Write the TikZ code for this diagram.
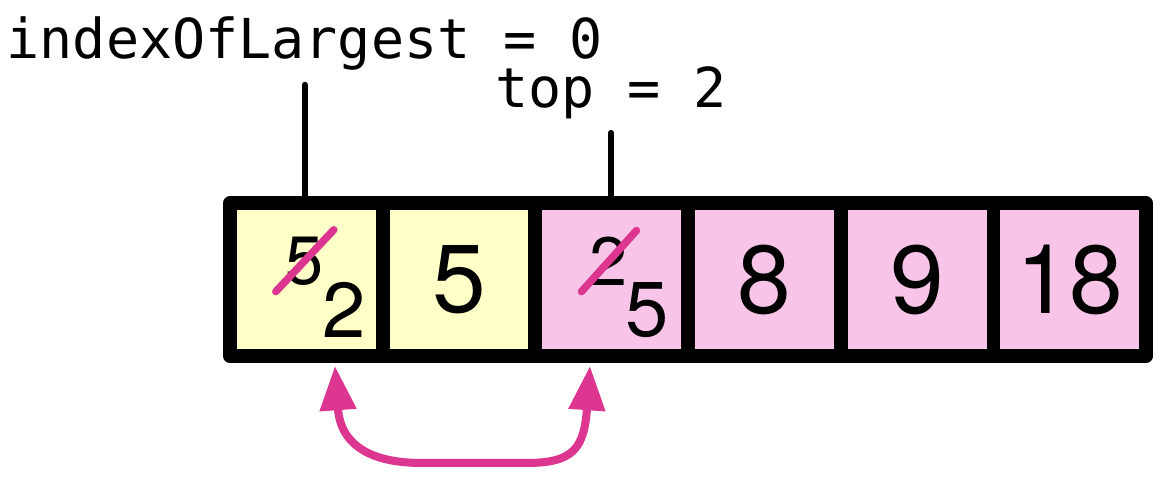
\documentclass[tikz,border=0pt]{standalone}
\usepackage{fontspec}
\setmainfont{TeX Gyre Heros}
\setmonofont{DejaVu Sans Mono}
\usetikzlibrary{arrows.meta}
\definecolor{cellyellow}{RGB}{255,255,200}
\definecolor{cellpink}{RGB}{248,197,233}
\definecolor{swapmagenta}{RGB}{221,54,144}
\begin{document}
\begin{tikzpicture}[
    cell/.style={draw, line width=5.2pt, line join=round, minimum width=2cm, minimum height=2cm,
      inner sep=0pt, font=\fontsize{36}{36}\selectfont},
    oldval/.style={inner sep=0pt, font=\fontsize{25.5}{26}\selectfont},
    newval/.style={inner sep=0pt, font=\fontsize{29}{30}\selectfont},
    strike/.style={swapmagenta, line width=2.8pt, line cap=round},
    pointer/.style={line width=2.4pt, line cap=round},
    varlabel/.style={anchor=base, inner sep=0pt, font=\ttfamily\fontsize{20.5}{24}\selectfont},
    swaparrow/.style={swapmagenta, line width=3pt,
      {Triangle[length=0.58cm,width=0.46cm]}-{Triangle[length=0.58cm,width=0.46cm]}}
  ]
  \useasboundingbox (-3.012,-1.585) rectangle (12.207,4.663);
  \draw
    (1,1) node[cell, fill=cellyellow] (c0){}
    (3,1) node[cell, fill=cellyellow] (c1){5}
    (5,1) node[cell, fill=cellpink] (c2){}
    (7,1) node[cell, fill=cellpink] (c3){8}
    (9,1) node[cell, fill=cellpink] (c4){9}
    (11,1) node[cell, fill=cellpink] (c5){18};
  % swapped values
  \node[oldval] (o0) at (0.98,1.244) {5};
  \node[newval] (n0) at (1.493,0.609) {2};
  \node[oldval] (o2) at (4.964,1.244) {2};
  \node[newval] (n2) at (5.462,0.602) {5};
  \draw[strike] ([shift={(-0.38,-0.40)}]o0.center) -- ([shift={(0.38,0.41)}]o0.center);
  \draw[strike] ([shift={(-0.36,-0.40)}]o2.center) -- ([shift={(0.36,0.40)}]o2.center);
  % variables
  \coordinate (t0) at (0.98,3.55);
  \coordinate (t2) at (4.99,2.92);
  \node[varlabel] (big) at (0.98,3.90) {indexOfLargest = 0};
  \node[varlabel] (top) at (4.99,3.25) {top = 2};
  \draw[pointer] (t0) -- (c0.north -| t0);
  \draw[pointer] (t2) -- (c2.north -| t2);
  % swap
  \coordinate (s0) at (1.375,-0.13);
  \coordinate (s2) at (4.715,-0.13);
  \draw[swaparrow] (s0) .. controls (1.45,-1.2) and (1.9,-1.40) .. (2.5,-1.40)
    -- (3.9,-1.40) .. controls (4.5,-1.40) and (4.64,-1.2) .. (s2);
\end{tikzpicture}
\end{document}
